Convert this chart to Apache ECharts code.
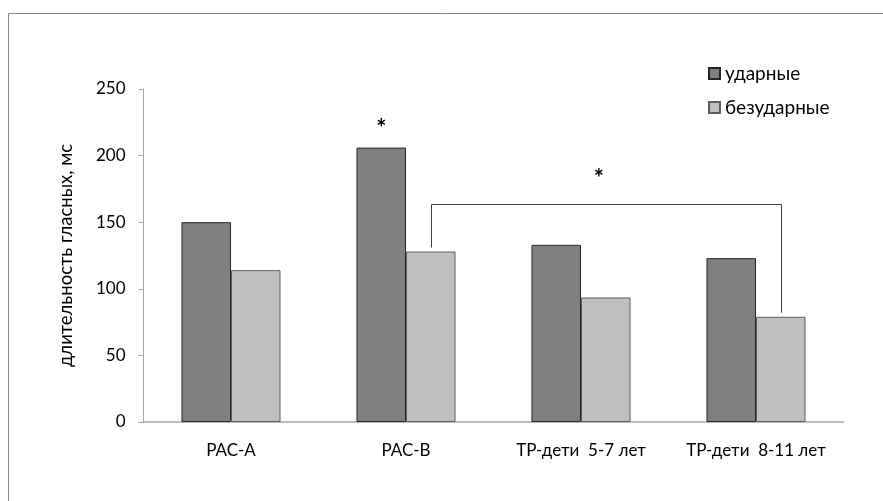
<!DOCTYPE html>
<html><head><meta charset="utf-8">
<script src="https://cdn.jsdelivr.net/npm/echarts@6/dist/echarts.min.js"></script>
<style>html,body{margin:0;padding:0;background:#fff}#c{width:883px;height:501px}</style>
</head><body><div id="c"></div>
<script>
const categories = ['РАС-А', 'РАС-В', 'ТР-дети  5-7 лет', 'ТР-дети  8-11 лет'];
const stressed = [150, 206, 133, 123];
const unstressed = [114, 128, 93.5, 79];
const seriesNames = ['ударные', 'безударные'];
const yTicks = {min: 0, max: 250, interval: 50};
const yAxisTitle = 'длительность гласных, мс';
// significance: star above stressed bar of РАС-В
const starStressed = [{cat: 1, value: 220}];
// bracket between unstressed bars of РАС-В and ТР-дети 8-11
const bracket = {fromCat: 1, toCat: 3, top: 164, fromEnd: 131, toEnd: 82, star: 182};

const FONT = 'Lato, "Open Sans", sans-serif';
const chart = echarts.init(document.getElementById('c'), null, {renderer: 'canvas'});

function barCenter(api, cat, series) {
  const band = api.size([1, 0])[0];
  const c = api.coord([cat, 0])[0];
  const barW = band * 0.283;
  return series === 0 ? c - barW / 2 : c + barW / 2;
}

chart.setOption({
  animation: false,
  backgroundColor: '#fff',
  graphic: [{
    type: 'rect', left: 6, top: 11, z: -1,
    shape: {width: 1000, height: 1000},
    style: {fill: 'none', stroke: '#8a8a8a', lineWidth: 1}
  }],
  grid: {left: 143.5, right: 39.5, top: 89, bottom: 79, containLabel: false},
  legend: {
    orient: 'vertical', left: 703, top: 59,
    itemWidth: 11, itemHeight: 11, itemGap: 15,
    icon: 'rect',
    textStyle: {fontFamily: FONT, fontSize: 19, color: '#000'},
    data: seriesNames
  },
  xAxis: {
    type: 'category', data: categories,
    axisLine: {lineStyle: {color: '#a6a6a6', width: 1.5}},
    axisTick: {show: false},
    axisLabel: {fontFamily: FONT, fontSize: 17, color: '#000', margin: 20, interval: 0, hideOverlap: false}
  },
  yAxis: {
    type: 'value', min: yTicks.min, max: yTicks.max, interval: yTicks.interval,
    name: yAxisTitle, nameLocation: 'middle', nameGap: 68,
    nameTextStyle: {fontFamily: FONT, fontSize: 18.5, color: '#000'},
    axisLine: {show: true, lineStyle: {color: '#a6a6a6', width: 1}},
    axisTick: {show: true, length: 5, lineStyle: {color: '#a6a6a6'}},
    splitLine: {show: false},
    axisLabel: {fontFamily: FONT, fontSize: 17, color: '#000', margin: 18}
  },
  series: [
    {
      name: seriesNames[0], type: 'bar', data: stressed,
      barGap: '0%', barCategoryGap: '43.4%',
      itemStyle: {color: '#808080', borderColor: '#262626', borderWidth: 1}
    },
    {
      name: seriesNames[1], type: 'bar', data: unstressed,
      itemStyle: {color: '#c0c0c0', borderColor: '#5e5e5e', borderWidth: 1}
    },
    {
      type: 'custom', name: 'stars', data: starStressed.map(s => [s.cat, s.value]),
      silent: true,
      renderItem: function (params, api) {
        const x = barCenter(api, api.value(0), 0);
        const y = api.coord([api.value(0), api.value(1)])[1];
        return {type: 'text', style: {text: '*', x: x, y: y, align: 'center', verticalAlign: 'middle',
          font: 'bold 24px ' + FONT, fill: '#000'}};
      }
    },
    {
      type: 'custom', name: 'bracket',
      data: [[bracket.fromCat, bracket.toCat, bracket.top, bracket.fromEnd, bracket.toEnd, bracket.star]],
      silent: true,
      renderItem: function (params, api) {
        const x1 = barCenter(api, api.value(0), 1);
        const x2 = barCenter(api, api.value(1), 1);
        const yTop = api.coord([0, api.value(2)])[1];
        const y1 = api.coord([0, api.value(3)])[1];
        const y2 = api.coord([0, api.value(4)])[1];
        const yStar = api.coord([0, api.value(5)])[1];
        return {type: 'group', children: [
          {type: 'polyline', shape: {points: [[Math.round(x1)+0.5, y1], [Math.round(x1)+0.5, Math.round(yTop)+0.5], [Math.round(x2)+0.5, Math.round(yTop)+0.5], [Math.round(x2)+0.5, y2]]},
            style: {stroke: '#404040', lineWidth: 1, fill: 'none'}},
          {type: 'text', style: {text: '*', x: (x1 + x2) / 2 - 7, y: yStar, align: 'center', verticalAlign: 'middle',
            font: 'bold 24px ' + FONT, fill: '#000'}}
        ]};
      }
    }
  ]
});
</script></body></html>
